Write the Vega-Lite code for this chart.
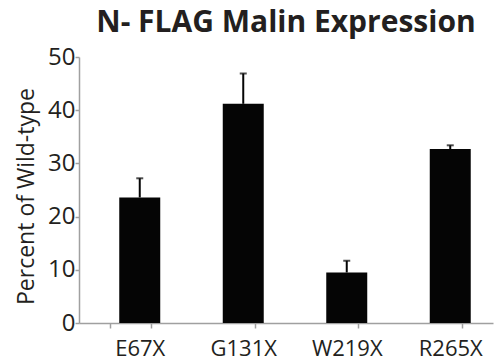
{
  "$schema": "https://vega.github.io/schema/vega-lite/v6.json",
  "autosize": "none",
  "width": 414,
  "height": 266,
  "padding": {"left": 79, "top": 57, "right": 3, "bottom": 41},
  "background": "white",
  "title": {
    "text": "N- FLAG Malin Expression",
    "font": "Open Sans",
    "fontSize": 30,
    "fontWeight": "bold",
    "color": "#231f20",
    "anchor": "middle",
    "offset": 7
  },
  "config": {
    "view": {"stroke": null},
    "axis": {
      "labelFont": "Open Sans",
      "titleFont": "Open Sans",
      "labelColor": "#231f20",
      "titleColor": "#231f20",
      "domainColor": "#a0a0a0",
      "tickColor": "#a0a0a0",
      "domainWidth": 1.5,
      "tickWidth": 1.5,
      "grid": false
    }
  },
  "data": {
    "values": [
      {"mutation": "E67X", "value": 23.6, "upper": 27.2},
      {"mutation": "G131X", "value": 41.2, "upper": 46.9},
      {"mutation": "W219X", "value": 9.5, "upper": 11.7},
      {"mutation": "R265X", "value": 32.7, "upper": 33.4}
    ]
  },
  "encoding": {
    "x": {
      "field": "mutation",
      "type": "nominal",
      "sort": null,
      "scale": {"paddingInner": 0.604, "paddingOuter": 0.302},
      "axis": {
        "title": null,
        "labelAngle": 0,
        "labelFontSize": 22,
        "labelPadding": 10,
        "labelOffset": 9,
        "tickSize": 5,
        "tickBand": "extent"
      }
    }
  },
  "layer": [
    {
      "mark": {"type": "bar", "color": "#050505", "xOffset": 9},
      "encoding": {
        "y": {
          "field": "value",
          "type": "quantitative",
          "scale": {"domain": [0, 50], "nice": false},
          "axis": {
            "title": "Percent of Wild-type",
            "titleFontSize": 23,
            "titleFontWeight": "normal",
            "titlePadding": 9,
            "titleY": 139,
            "labelFontSize": 24,
            "labelPadding": 0,
            "tickSize": 4,
            "values": [0, 10, 20, 30, 40, 50]
          }
        }
      }
    },
    {
      "mark": {"type": "rule", "color": "#050505", "strokeWidth": 2, "xOffset": 9},
      "encoding": {
        "y": {"field": "value", "type": "quantitative"},
        "y2": {"field": "upper"}
      }
    },
    {
      "mark": {"type": "tick", "color": "#050505", "thickness": 2, "size": 7, "xOffset": 9},
      "encoding": {
        "y": {"field": "upper", "type": "quantitative"}
      }
    }
  ]
}
